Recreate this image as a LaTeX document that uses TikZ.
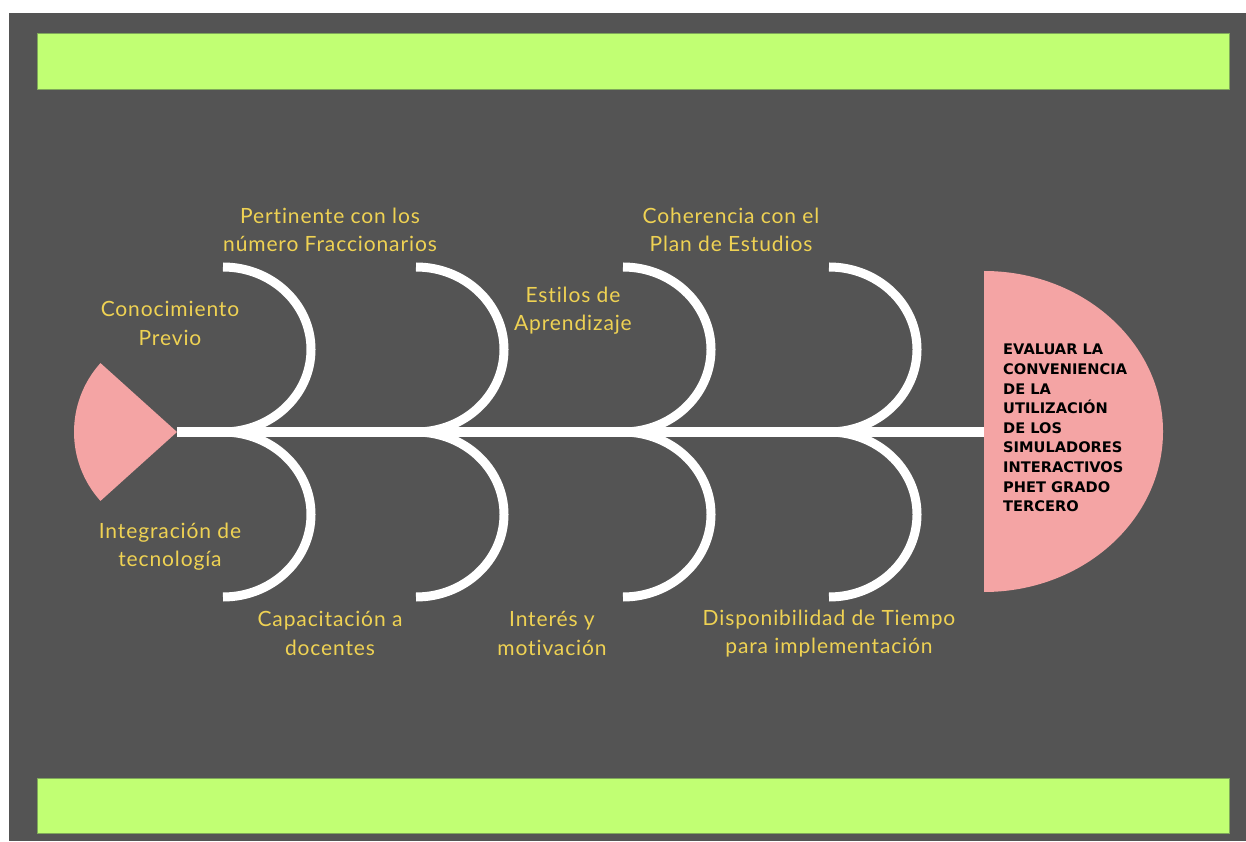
\documentclass[tikz,border=0pt]{standalone}
\usepackage{fontspec}
\setmainfont{Lato}[LetterSpace=4.2, Ligatures={NoCommon,NoRare}, RawFeature={-liga;-dlig}]
\newfontfamily\headfont{DejaVu Sans}
\definecolor{bg}{HTML}{545454}
\definecolor{band}{HTML}{C1FF73}
\definecolor{bandedge}{HTML}{7FA85A}
\definecolor{pinkfill}{HTML}{F4A4A4}
\definecolor{labelcol}{HTML}{EFD253}
\tikzset{
  greenband/.style={fill=band, draw=bandedge, line width=0.8pt},
  bone/.style={draw=white, line width=9pt},
  spinestyle/.style={draw=white, line width=9.5pt},
  lbl/.style={text=labelcol, align=center, inner sep=0pt, font=\fontsize{21}{28.5}\selectfont},
  headtext/.style={text=black, align=left, anchor=west, inner sep=0pt, font=\headfont\bfseries\fontsize{14.6}{19.6}\selectfont}
}
\begin{document}
\begin{tikzpicture}[x=1pt,y=1pt]
\useasboundingbox (0,0) rectangle (1246,841);
\fill[white] (0,0) rectangle (1246,841);
\fill[bg] (9,0) rectangle (1246,828);
% bands
\draw[greenband] (37,752) rectangle (1229,808);
\draw[greenband] (37,8) rectangle (1229,63);
% spine
\coordinate (tail) at (177,409);
\coordinate (head) at (986,409);
\draw[spinestyle] (tail) -- (head);
% bones
\foreach \bx/\nm in {223/b1,416/b2,623/b3,829/b4}{
  \coordinate (\nm top) at (\bx,574);
  \coordinate (\nm mid) at (\bx,409);
  \draw[bone] (\nm top) arc[start angle=90, end angle=-90, x radius=88, y radius=82.5];
  \draw[bone] (\nm mid) arc[start angle=90, end angle=-90, x radius=88, y radius=82.5];
}
% tail
\fill[pinkfill] (tail) -- ++(138:103) arc[start angle=138, end angle=222, radius=103] -- cycle;
% head
\fill[pinkfill] (984,570) arc[start angle=90, end angle=-90, x radius=179, y radius=160.5] -- cycle;
\node[headtext] (goal) at (1003,413) {EVALUAR LA\\CONVENIENCIA\\DE LA\\UTILIZACIÓN\\DE LOS\\SIMULADORES\\INTERACTIVOS\\PHET GRADO\\TERCERO};
% labels
\node[lbl] (l1) at (330,611) {Pertinente con los\\número Fraccionarios};
\node[lbl] (l2) at (170,517.5) {Conocimiento\\Previo};
\node[lbl] (l3) at (731,611) {Coherencia con el\\Plan de Estudios};
\node[lbl] (l4) at (573,530.5) {Estilos de\\Aprendizaje};
\node[lbl] (l5) at (170,294.5) {Integración de\\tecnología};
\node[lbl] (l6) at (330,207.5) {Capacitación a\\docentes};
\node[lbl] (l7) at (552,207.5) {Interés y\\motivación};
\node[lbl] (l8) at (829,207.5) {Disponibilidad de Tiempo\\para implementación};
\end{tikzpicture}
\end{document}
